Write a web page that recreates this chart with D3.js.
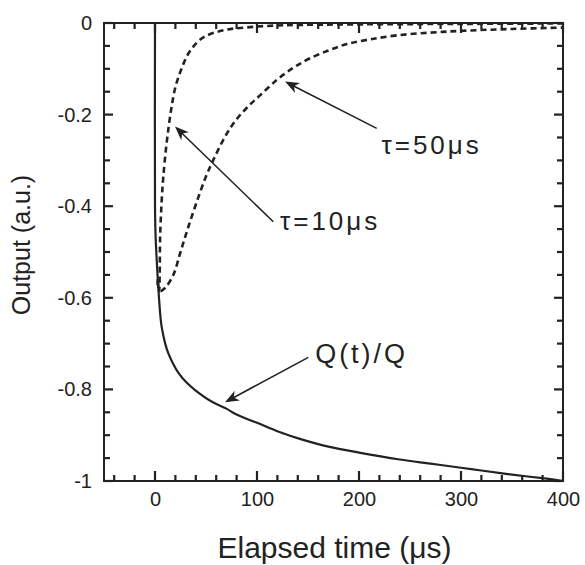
<!DOCTYPE html>
<html>
<head>
<meta charset="utf-8">
<script src="https://cdn.jsdelivr.net/npm/d3@7"></script>
<style>
  html, body { margin: 0; padding: 0; background: #fff; }
  svg { display: block; }
  text { font-family: "Liberation Sans", Arial, sans-serif; fill: #222; }
</style>
</head>
<body>
<svg id="chart" width="585" height="565"></svg>
<script>
// Charge fraction Q(t)/Q and shaped outputs for two shaping time constants
const qTime  = [0, 0, 0.5, 1.5, 3.3, 5.5, 6.5, 10, 13, 18, 23, 30, 39, 55, 70, 80, 100, 122, 142, 170, 200, 240, 270, 300, 320, 350, 384, 400];
const qValue = [0, -0.40, -0.46, -0.51, -0.58, -0.645, -0.663, -0.70, -0.721, -0.745, -0.764, -0.783, -0.801, -0.826, -0.842, -0.855, -0.873, -0.893, -0.908, -0.925, -0.938, -0.953, -0.962, -0.971, -0.977, -0.986, -0.995, -1.0];

const tau10Time  = [2.5, 4, 4.6, 5, 6.5, 8, 10.5, 13.5, 16.5, 20, 26, 34, 47, 67, 93, 126, 200, 300, 400];
const tau10Value = [-0.56, -0.585, -0.55, -0.47, -0.39, -0.34, -0.28, -0.225, -0.18, -0.14, -0.10, -0.062, -0.032, -0.016, -0.009, -0.005, -0.003, -0.002, -0.001];

const tau50Time  = [2.5, 5, 10, 18, 25, 32, 41, 50, 57, 67, 77, 90, 103, 119, 129, 139, 152, 170, 188, 210, 237, 270, 302, 350, 400];
const tau50Value = [-0.565, -0.585, -0.578, -0.55, -0.50, -0.45, -0.39, -0.335, -0.30, -0.255, -0.219, -0.185, -0.158, -0.125, -0.108, -0.093, -0.077, -0.060, -0.046, -0.036, -0.027, -0.021, -0.017, -0.013, -0.010];

const xTickLabels = [0, 100, 200, 300, 400];
const yTickLabels = [0, -0.2, -0.4, -0.6, -0.8, -1];

// Annotation labels with arrows, positions in data units
const annotLabels = ["τ=50μs", "τ=10μs", "Q(t)/Q"];
const annotText   = [[222, -0.286], [122.5, -0.453], [157, -0.743]];
const annotTail   = [[217.4, -0.230], [116, -0.434], [150.3, -0.730]];
const annotTip    = [[127.5, -0.128], [19.6, -0.226], [68.6, -0.828]];

const margin = { left: 104, right: 22, top: 23, bottom: 84 };
const W = 585, H = 565;
const svg = d3.select("#chart");
const ink = "#222";

const x = d3.scaleLinear().domain([-50, 400]).range([margin.left, W - margin.right]);
const y = d3.scaleLinear().domain([-1, 0]).range([H - margin.bottom, margin.top]);

const fmtY = d => d === 0 ? "0" : (d === -1 ? "-1" : "-" + Math.abs(d).toFixed(1));

const xMinor = d3.range(-40, 401, 20).filter(v => v % 100 !== 0);
const yMinor = d3.range(1, 20).map(i => -i * 0.05).filter((v, i) => (i + 1) % 4 !== 0);

function styleLabels(g) {
  g.select(".domain").remove();
  g.selectAll(".tick line").remove();
  g.selectAll(".tick text").attr("font-size", 20)
    .style("font-family", '"Liberation Sans", Arial, sans-serif').attr("fill", ink);
}

// tick labels
svg.append("g").attr("transform", `translate(0,${y(-1)})`)
  .call(d3.axisBottom(x).tickValues(xTickLabels).tickSize(0).tickPadding(11).tickFormat(d3.format("d")))
  .call(styleLabels);
svg.append("g").attr("transform", `translate(${x(-50)},0)`)
  .call(d3.axisLeft(y).tickValues(yTickLabels).tickSize(0).tickPadding(12).tickFormat(fmtY))
  .call(styleLabels);

// inward ticks on all four sides, drawn as thin filled rectangles
const xTicks = xTickLabels.map(v => ({ v, len: 10 })).concat(xMinor.map(v => ({ v, len: 6 })));
const yTicks = yTickLabels.map(v => ({ v, len: 9 })).concat(yMinor.map(v => ({ v, len: 6 })));
const yb = y(-1), yt = y(0), xl = x(-50), xr = x(400);
const tw = 2.2;
const tickG = svg.append("g").attr("fill", ink);
xTicks.forEach(t => {
  tickG.append("rect").attr("x", x(t.v) - tw / 2).attr("y", yb - t.len).attr("width", tw).attr("height", t.len);
  tickG.append("rect").attr("x", x(t.v) - tw / 2).attr("y", yt).attr("width", tw).attr("height", t.len);
});
yTicks.forEach(t => {
  tickG.append("rect").attr("x", xl).attr("y", y(t.v) - tw / 2).attr("width", t.len).attr("height", tw);
  tickG.append("rect").attr("x", xr - t.len).attr("y", y(t.v) - tw / 2).attr("width", t.len).attr("height", tw);
});

// frame
svg.append("rect")
  .attr("x", xl).attr("y", yt)
  .attr("width", xr - xl).attr("height", yb - yt)
  .attr("fill", "none").attr("stroke", ink).attr("stroke-width", 2);

// curves
const line = d3.line().x(d => x(d[0])).y(d => y(d[1])).curve(d3.curveCatmullRom.alpha(0.5));
const zip = (a, b) => a.map((v, i) => [v, b[i]]);

svg.append("path").datum(zip(tau50Time, tau50Value))
  .attr("d", line).attr("fill", "none").attr("stroke", ink)
  .attr("stroke-width", 2.6).attr("stroke-dasharray", "6,4");
svg.append("path").datum(zip(tau10Time, tau10Value))
  .attr("d", line).attr("fill", "none").attr("stroke", ink)
  .attr("stroke-width", 2.6).attr("stroke-dasharray", "6,4");
svg.append("path").datum(zip(qTime, qValue))
  .attr("d", line).attr("fill", "none").attr("stroke", ink).attr("stroke-width", 2.2);

// arrows and labels
function arrowHead(tx, ty, fx, fy) {
  const a = Math.atan2(fy - ty, fx - tx);
  const L = 14, w = 5.5, notch = 10;
  const ux = Math.cos(a), uy = Math.sin(a), px = -uy, py = ux;
  const p = [
    [tx, ty],
    [tx + ux * L + px * w, ty + uy * L + py * w],
    [tx + ux * notch, ty + uy * notch],
    [tx + ux * L - px * w, ty + uy * L - py * w]
  ];
  return "M" + p.map(q => q.join(",")).join("L") + "Z";
}

annotLabels.forEach((lab, i) => {
  const tx = x(annotTip[i][0]), ty = y(annotTip[i][1]);
  const fx = x(annotTail[i][0]), fy = y(annotTail[i][1]);
  const a = Math.atan2(fy - ty, fx - tx);
  svg.append("line")
    .attr("x1", fx).attr("y1", fy)
    .attr("x2", tx + Math.cos(a) * 9).attr("y2", ty + Math.sin(a) * 9)
    .attr("stroke", ink).attr("stroke-width", 1.6);
  svg.append("path").attr("d", arrowHead(tx, ty, fx, fy)).attr("fill", ink);
  svg.append("text")
    .attr("x", x(annotText[i][0])).attr("y", y(annotText[i][1]))
    .attr("font-size", i === 2 ? 27 : 26).attr("letter-spacing", 3)
    .text(lab);
});

// axis titles
svg.append("text")
  .attr("x", (xl + xr) / 2 + 1).attr("y", 558)
  .attr("text-anchor", "middle").attr("font-size", 30)
  .text("Elapsed time (μs)");
svg.append("text")
  .attr("transform", `translate(30,${(yt + yb) / 2 - 7}) rotate(-90)`)
  .attr("text-anchor", "middle").attr("font-size", 25)
  .text("Output (a.u.)");
</script>
</body>
</html>
